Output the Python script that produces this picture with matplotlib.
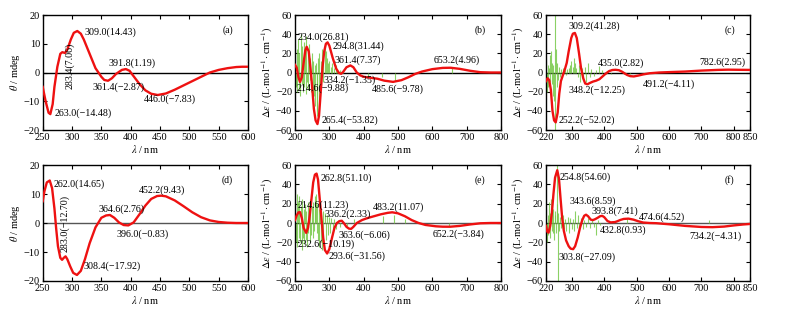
import matplotlib
matplotlib.use("Agg")
import matplotlib.pyplot as plt

plt.rcParams['font.family'] = ['Liberation Serif', 'DejaVu Serif']
plt.rcParams['mathtext.fontset'] = 'stix'

# ---------------- data ----------------
# (a)
a_x = [250, 255, 260, 263, 267, 270, 275, 280, 283.4, 288, 292, 298, 303, 309, 315, 320, 330, 340, 350, 355, 361.4,
       368, 375, 385, 391.8, 398, 405, 415, 425, 435, 446, 460, 475, 490, 505, 520, 535, 550, 565, 580, 590, 600]
a_y = [-5, -10, -14, -14.48, -11, -5, 2, 6.5, 7.06, 6.8, 8, 11.5, 13.8, 14.43, 13.5, 11.5, 6.5, 1.5, -1.5, -2.6, -2.87,
       -2, -0.5, 0.9, 1.19, 0.6, -1.3, -4, -6.2, -7.4, -7.83, -7.3, -6, -4.5, -3, -1.5, 0, 0.9, 1.5, 1.9, 2.0, 2.0]
# (b)
b_x = [200, 205, 210, 214.6, 220, 225, 230, 234, 240, 245, 250, 255, 260, 265.4, 270, 275, 280, 285, 290, 294.8, 300,
       310, 320, 328, 334.2, 340, 350, 361.4, 370, 380, 390, 400, 420, 440, 460, 485.6, 510, 530, 550, 570, 600, 630,
       653.2, 680, 710, 740, 770, 800]
b_y = [8, 5, -5, -9.88, -5, 10, 23, 26.81, 22, 5, -15, -38, -50, -53.82, -45, -20, 5, 22, 30, 31.44, 28,
       15, 4, -0.5, -1.35, 0.5, 5.5, 7.37, 5.5, 0, -3, -4.5, -5.5, -6.5, -8.5, -9.78, -8, -5, -1.5, 1, 3.5, 4.8,
       4.96, 3.8, 1.8, 0.3, 0, 0]
b_sx = [201, 203, 205, 207, 209, 211, 213, 215, 217, 219, 221, 223, 225, 227, 229, 231, 233, 235, 237, 239, 241, 243,
        245, 247, 249, 251, 253, 255, 257, 259, 261, 263, 265, 267, 269, 271, 273, 275, 277, 279, 281, 283, 286, 289,
        292, 296, 300, 304, 308, 313, 318, 323, 330, 340, 413, 452, 491, 657]
b_sy = [30, -15, 25, -20, 35, -18, 20, -25, 40, -12, 28, -20, 32, -15, 22, -22, 38, -10, 18, -18, 30, -8,
        15, -20, 20, -30, 12, -25, 8, -35, 10, -40, -45, 15, -30, 20, -25, 12, -15, 25, -10, 18, 30, 22,
        15, 10, 12, 6, 10, 5, 8, 4, 3, 2, -4, -5, -9, 5]
# (c)
c_x = [220, 225, 230, 235, 240, 245, 250, 256, 261, 266, 272, 278, 284, 290, 298, 303, 309.2, 315, 322, 328, 335, 341,
       348.2, 355, 365, 375, 385, 395, 405, 415, 425, 435, 445, 455, 470, 480, 491.2, 505, 520, 540, 570, 600, 650,
       700, 750, 782.6, 820, 850]
c_y = [-9, -6, -8, -18, -40, -50, -52.02, -42, -22, -9, -3, 3, 10, 22, 36, 40.5, 41.28, 36, 20, 5, -6, -11.5,
       -12.25, -11, -9.5, -8.5, -7, -4, -1, 1.5, 2.6, 2.82, 2.4, 0.8, -2.5, -3.8, -4.11, -3.2, -2, -0.8, 0, 0.4, 1.0,
       2.0, 2.7, 2.95, 2.8, 2.7]
c_sx = [221, 223, 225, 227, 229, 231, 233, 235, 237, 239, 241, 243, 245, 247, 249, 251, 253, 255, 258, 261, 264, 267,
        270, 274, 278, 282, 286, 290, 294, 298, 302, 306, 310, 314, 318, 322, 326, 330, 335, 340, 345, 350, 355, 360,
        368, 375, 383, 392, 405, 420, 440, 460, 480]
c_sy = [12, -20, 8, -15, 5, -10, 18, 22, -12, 10, -25, 8, -30, -60, 62, 25, -15, 10, -8, 6, -5, 4,
        -3, 5, 3, -3, 4, 5, 8, 12, 6, 15, 10, 5, -5, 8, -10, 5, -8, 6, -10, 10, -5, 4,
        -4, 3, 7, 3, -2, -2, -1, -2, -2]
# (d)
d_x = [250, 253, 257, 262, 266, 270, 273, 276, 280, 283, 286, 289, 292, 297, 302, 308.4, 315, 322, 330, 340, 350, 358,
       364.6, 372, 380, 388, 396, 405, 415, 425, 435, 445, 452.2, 460, 475, 490, 505, 520, 535, 550, 565, 580, 600]
d_y = [7.5, 11, 14, 14.65, 12, 5, -2, -8, -12, -12.7, -12, -11.5, -12.5, -15, -17.2, -17.92, -16.5, -12.5, -7, -1.5,
       1.8, 2.6, 2.76, 1.8, 0.2, -0.7, -0.83, 0.2, 3, 6, 8.3, 9.3, 9.43, 9.2, 7.8, 5.8, 3.7, 2.0, 0.9, 0.35, 0.1, 0, 0]
# (e)
e_x = [200, 205, 210, 214.6, 220, 225, 232.6, 238, 243, 248, 253, 258, 262.8, 267, 272, 277, 282, 287, 293.6, 300, 308,
       315, 322, 330, 336.2, 342, 350, 357, 363.6, 370, 380, 395, 410, 430, 450, 470, 483.2, 500, 520, 540, 560, 580,
       610, 630, 652.2, 680, 710, 740, 770, 800]
e_y = [3, 8, 11, 11.23, 5, -5, -10.19, -5, 8, 25, 42, 50, 51.10, 45, 25, 5, -15, -28, -31.56, -27, -15,
       -5, 0, 2, 2.33, 0, -4, -5.8, -6.06, -4, 0, 3, 5, 7, 9, 10.5, 11.07, 10, 7, 3, 0, -2,
       -3.4, -3.8, -3.84, -3, -1.5, -0.3, 0, 0]
e_sx = [201, 203, 205, 207, 209, 211, 213, 215, 217, 219, 221, 223, 225, 227, 229, 231, 233, 235, 237, 239, 241, 243,
        245, 247, 249, 251, 253, 255, 257, 259, 261, 263, 265, 267, 269, 271, 273, 275, 277, 279, 281, 283, 286, 289,
        292, 295, 298, 302, 306, 310, 315, 320, 326, 332, 340, 350, 372, 457, 487, 521, 648]
e_sy = [47, -20, 30, -25, 22, -15, 28, -20, 18, -28, 25, -15, 15, -22, 20, -18, 12, -25, 22, -10, 15, -20,
        25, -12, 18, -15, 22, -8, 28, 15, 30, -10, 20, -18, 15, -25, 10, -20, 8, -28, 12, -22, 10, -18,
        8, -12, 6, -10, 5, -8, 4, -6, 3, -4, 2, -3, 4, 7, 8, 4, -3]
# (f)
f_x = [220, 224, 228, 233, 238, 243, 248, 254.8, 260, 265, 270, 275, 282, 290, 296, 303.8, 310, 318, 325, 332, 338,
       343.6, 350, 358, 365, 372, 380, 387, 393.8, 400, 410, 420, 425, 432.8, 440, 450, 460, 474.6, 490, 505, 520, 540,
       560, 600, 650, 700, 734.2, 770, 800, 830, 850]
f_y = [-3, -9, -10, -3, 10, 30, 47, 54.60, 46, 25, 5, -8, -18, -24, -26.5, -27.09, -24, -15, -5, 3, 7.5,
       8.59, 7, 3.5, 3, 4, 5.5, 7, 7.41, 6, 2, 0.6, 0.8, 0.93, 1.8, 3.2, 4.2, 4.52, 3.5, 1.8, 0.5, 0,
       -0.2, -1.3, -3, -4.1, -4.31, -3.7, -2.5, -1.5, -1]
f_sx = [221, 223, 225, 227, 229, 231, 233, 235, 237, 239, 241, 243, 245, 247, 249, 251, 253, 255, 256, 258, 261, 264,
        267, 271, 275, 279, 283, 287, 291, 295, 299, 303, 307, 311, 315, 319, 323, 328, 333, 338, 344, 350, 356, 362,
        368, 373, 380, 388, 470, 722]
f_sy = [15, -20, 8, -12, 22, -15, 10, 25, -8, 12, -10, 15, -18, 8, 12, -10, 20, 62, -62, 10, -8, 6,
        -5, 8, -6, 4, -8, 6, -10, 5, -6, 4, -8, 12, -5, 8, -4, 5, -6, 3, -4, 5, -5, 3,
        -4, -12, 3, -2, 5, 3]

# annotations: (text, x, y, rotation, ha)
a_ann = [("309.0(14.43)", 321, 14.0, 0, 'left'), ("283.4(7.06)", 296, 2.5, 90, 'center'),
         ("391.8(1.19)", 402, 3.4, 0, 'center'), ("361.4(\u22122.87)", 380, -5.2, 0, 'center'),
         ("446.0(\u22127.83)", 466, -9.3, 0, 'center'), ("263.0(\u221214.48)", 270, -14.3, 0, 'left')]
b_ann = [("234.0(26.81)", 207, 36.5, 0, 'left'), ("294.8(31.44)", 310, 27, 0, 'left'),
         ("361.4(7.37)", 384, 13, 0, 'center'), ("334.2(\u22121.35)", 282, -8, 0, 'left'),
         ("214.6(\u22129.88)", 204, -16.5, 0, 'left'), ("265.4(\u221253.82)", 277, -49.6, 0, 'left'),
         ("485.6(\u22129.78)", 500, -17.6, 0, 'center'), ("653.2(4.96)", 672, 13, 0, 'center')]
c_ann = [("309.2(41.28)", 291, 48.5, 0, 'left'), ("435.0(2.82)", 453, 10, 0, 'center'),
         ("491.2(\u22124.11)", 600, -12, 0, 'center'), ("348.2(\u221212.25)", 291, -18.3, 0, 'left'),
         ("252.2(\u221252.02)", 260, -49.6, 0, 'left'), ("782.6(2.95)", 766, 11, 0, 'center')]
d_ann = [("262.0(14.65)", 268, 13.3, 0, 'left'), ("283.0(\u221212.70)", 287, -0.2, 90, 'center'),
         ("364.6(2.76)", 385, 4.6, 0, 'center'), ("396.0(\u22120.83)", 420, -3.9, 0, 'center'),
         ("452.2(9.43)", 453, 11.2, 0, 'center'), ("308.4(\u221217.92)", 319, -14.8, 0, 'left')]
e_ann = [("262.8(51.10)", 275, 46, 0, 'left'), ("214.6(11.23)", 207, 18.6, 0, 'left'),
         ("336.2(2.33)", 287, 9, 0, 'left'), ("483.2(11.07)", 501, 16, 0, 'center'),
         ("363.6(\u22126.06)", 326, -12.4, 0, 'left'), ("232.6(\u221210.19)", 207, -21.7, 0, 'left'),
         ("293.6(\u221231.56)", 297, -34, 0, 'left'), ("652.2(\u22123.84)", 675, -12, 0, 'center')]
f_ann = [("254.8(54.60)", 263, 47, 0, 'left'), ("343.6(8.59)", 294, 22.8, 0, 'left'),
         ("393.8(7.41)", 359, 12.4, 0, 'left'), ("474.6(4.52)", 508, 5.5, 0, 'left'),
         ("432.8(0.93)", 387, -7.2, 0, 'left'), ("303.8(\u221227.09)", 258, -35.4, 0, 'left'),
         ("734.2(\u22124.31)", 742, -13.3, 0, 'center')]

theta_label = r'$\theta$ / mdeg'
eps_label = r'$\Delta\varepsilon$ / (L$\cdot$mol$^{-1}\cdot$cm$^{-1}$)'
x_label = r'$\lambda$ / nm'

ticks_ad = [250, 300, 350, 400, 450, 500, 550, 600]
ticks_be = [200, 300, 400, 500, 600, 700, 800]
ticks_cf = [220, 300, 400, 500, 600, 700, 800, 850]

# ---------------- figure ----------------
fig = plt.figure(figsize=(7.85, 3.14), dpi=100)
W, H = 785.0, 314.0
cols = [(42.7, 248), (295, 501), (546, 750)]
rows = [(15, 130), (165, 281)]

panels = [
    (0, 0, a_x, a_y, None, None, a_ann, (250, 600), (-20, 20), [-20, -10, 0, 10, 20], ticks_ad, theta_label, '(a)'),
    (0, 1, b_x, b_y, b_sx, b_sy, b_ann, (200, 800), (-60, 60), [-60, -40, -20, 0, 20, 40, 60], ticks_be, eps_label, '(b)'),
    (0, 2, c_x, c_y, c_sx, c_sy, c_ann, (220, 850), (-60, 60), [-60, -40, -20, 0, 20, 40, 60], ticks_cf, eps_label, '(c)'),
    (1, 0, d_x, d_y, None, None, d_ann, (250, 600), (-20, 20), [-20, -10, 0, 10, 20], ticks_ad, theta_label, '(d)'),
    (1, 1, e_x, e_y, e_sx, e_sy, e_ann, (200, 800), (-60, 60), [-60, -40, -20, 0, 20, 40, 60], ticks_be, eps_label, '(e)'),
    (1, 2, f_x, f_y, f_sx, f_sy, f_ann, (220, 850), (-60, 60), [-60, -40, -20, 0, 20, 40, 60], ticks_cf, eps_label, '(f)'),
]

for r, c, xs, ys, sx, sy, ann, xl, yl, yt, xt, ylab, tag in panels:
    x0, x1 = cols[c]
    y0, y1 = rows[r]
    ax = fig.add_axes([x0 / W, 1 - y1 / H, (x1 - x0) / W, (y1 - y0) / H])
    ax.axhline(0, color='black' if r == 0 else '#555555', lw=1.0, zorder=1)
    if sx is not None:
        ax.vlines(sx, 0, sy, color='#77c94a', lw=0.8, alpha=0.85, zorder=2)
    ax.plot(xs, ys, color='#ee1111', lw=1.7, zorder=3)
    for t, tx, ty, rot, ha in ann:
        ax.text(tx, ty, t, rotation=rot, ha=ha, va='center', fontsize=7.2, zorder=4)
    ax.text(0.9, 0.87, tag, transform=ax.transAxes, ha='center', va='center', fontsize=7)
    ax.set_xlim(*xl)
    ax.set_ylim(*yl)
    ax.set_xticks(xt)
    ax.set_yticks(yt)
    ax.set_yticklabels([str(v).replace('-', '\u2212') for v in yt])
    ax.tick_params(direction='in', top=True, right=True, length=3, width=0.8, labelsize=7.5, pad=2)
    for s in ax.spines.values():
        s.set_linewidth(1.0)
    ax.set_xlabel(x_label, fontsize=7.5, labelpad=1)
    ax.set_ylabel(ylab, fontsize=7.5, labelpad=1)

fig.savefig('out.png', dpi=100)
